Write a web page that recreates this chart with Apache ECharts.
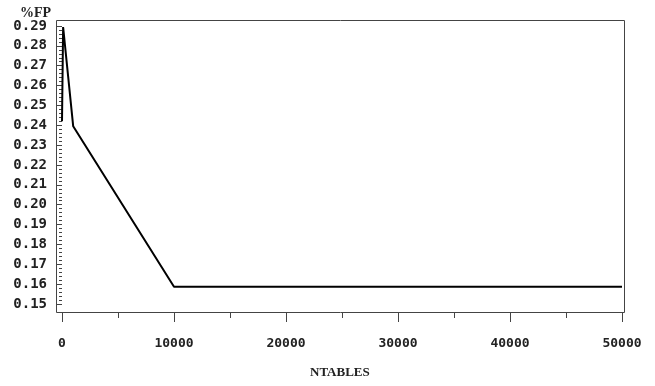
<!DOCTYPE html>
<html>
<head>
<meta charset="utf-8">
<script src="https://cdn.jsdelivr.net/npm/echarts@6/dist/echarts.min.js"></script>
<style>
  html, body { margin: 0; padding: 0; background: #fff; }
  #chart { width: 655px; height: 386px; }
</style>
</head>
<body>
<div id="chart"></div>
<script>
// data
var ntables = [0, 100, 1000, 10000, 20000, 30000, 40000, 50000];
var fpRate = [0.242, 0.2895, 0.2395, 0.1587, 0.1587, 0.1587, 0.1587, 0.1587];
var xTicks = [0, 10000, 20000, 30000, 40000, 50000];
var yTicks = [0.15, 0.16, 0.17, 0.18, 0.19, 0.20, 0.21, 0.22, 0.23, 0.24, 0.25, 0.26, 0.27, 0.28, 0.29];
var yTitle = '%FP';
var xTitle = 'NTABLES';

var points = ntables.map(function (x, i) { return [x, fpRate[i]]; });

// minor ticks: one between x majors, four between y majors
var xMinor = [];
for (var i = 0; i < xTicks.length - 1; i++) xMinor.push((xTicks[i] + xTicks[i + 1]) / 2);
var yMinor = [];
for (var j = 0; j < yTicks.length - 1; j++) {
  for (var k = 1; k < 5; k++) yMinor.push(yTicks[j] + (yTicks[j + 1] - yTicks[j]) * k / 5);
}

// the frame is wider than the data range (SAS style padding)
var xMin = -536, xMax = 50268;
var yMin = 0.14547, yMax = 0.29302;

var monoBold = {
  fontFamily: 'DejaVu Sans Mono',
  fontWeight: 'bold',
  color: '#222'
};
var tickColor = '#444';

function xAxisBase(extra) {
  return Object.assign({
    type: 'value', min: xMin, max: xMax,
    axisLine: { show: false },
    splitLine: { show: false }
  }, extra);
}
function yAxisBase(extra) {
  return Object.assign({
    type: 'value', min: yMin, max: yMax,
    axisLine: { show: false },
    splitLine: { show: false }
  }, extra);
}

var chart = echarts.init(document.getElementById('chart'));
chart.setOption({
  backgroundColor: '#fff',
  animation: false,
  grid: { left: 56, right: 30, top: 20, bottom: 73 },
  xAxis: [
    xAxisBase({
      axisTick: { show: true, length: 9, customValues: xTicks, lineStyle: { color: tickColor } },
      axisLabel: Object.assign({
        margin: 24, fontSize: 13, customValues: xTicks,
        formatter: function (v) { return String(v); }
      }, monoBold)
    }),
    xAxisBase({
      position: 'bottom',
      axisTick: { show: true, length: 5, customValues: xMinor, lineStyle: { color: tickColor } },
      axisLabel: { show: false }
    })
  ],
  yAxis: [
    yAxisBase({
      axisTick: { show: true, length: 6, customValues: yTicks, lineStyle: { color: tickColor } },
      axisLabel: Object.assign({
        margin: 9, fontSize: 14, customValues: yTicks,
        formatter: function (v) { return v.toFixed(2); }
      }, monoBold)
    }),
    yAxisBase({
      position: 'left',
      axisTick: { show: true, length: 3, customValues: yMinor, lineStyle: { color: tickColor } },
      axisLabel: { show: false }
    })
  ],
  graphic: [
    { type: 'rect', silent: true, z: 0,
      shape: { x: 56.5, y: 20.5, width: 568, height: 292 },
      style: { fill: null, stroke: tickColor, lineWidth: 1 } },
    { type: 'text', left: 20, top: 6,
      style: { text: yTitle, font: 'bold 14px "Liberation Serif"', fill: '#222' } },
    { type: 'text', left: 310, top: 366,
      style: { text: xTitle, font: 'bold 13px "Liberation Serif"', fill: '#222' } }
  ],
  series: [{
    type: 'line',
    data: points,
    symbol: 'none',
    lineStyle: { color: '#000', width: 2 }
  }]
});
</script>
</body>
</html>
